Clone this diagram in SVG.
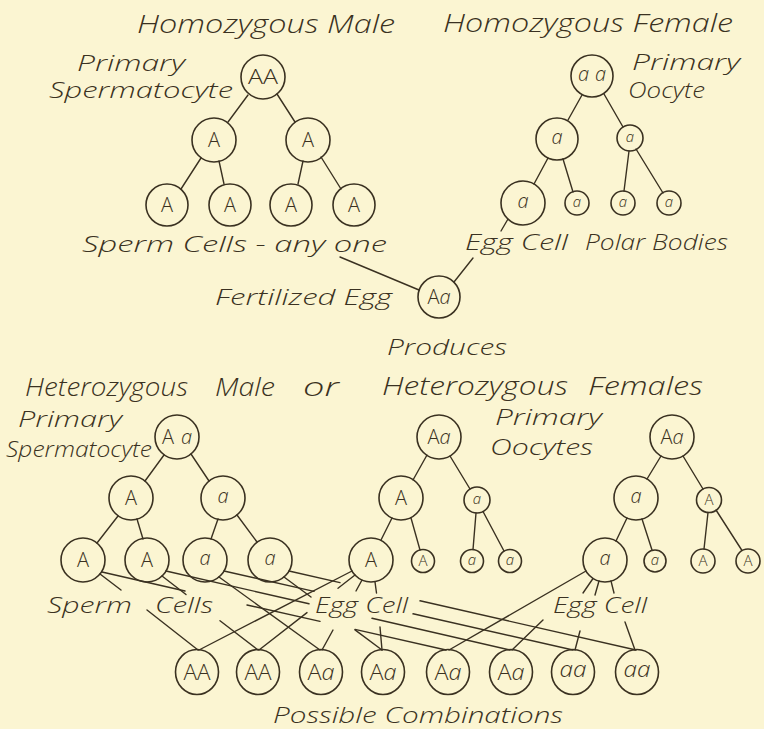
<svg xmlns="http://www.w3.org/2000/svg" width="764" height="729" viewBox="0 0 764 729">
<style>
.bg{fill:#fbf5d2}
.c{fill:none;stroke:#3a3121;stroke-width:1.6}
.ln line{stroke:#3a3121;stroke-width:1.4;stroke-linecap:round}
.lb{font-family:"Open Sans","Liberation Sans",sans-serif;font-style:italic;font-weight:300;font-size:22px;fill:#3a3121}
.tt{font-family:"Open Sans","Liberation Sans",sans-serif;font-style:italic;font-weight:300;font-size:26px;fill:#3a3121}
.n{font-family:"Open Sans","Liberation Sans",sans-serif;font-weight:300;font-size:20px;fill:#3a3121;text-anchor:middle}
.s{font-family:"Open Sans","Liberation Sans",sans-serif;font-weight:300;font-size:15px;fill:#3a3121;text-anchor:middle}
.b{font-family:"Open Sans","Liberation Sans",sans-serif;font-weight:300;font-size:22px;fill:#3a3121;text-anchor:middle}
.i{font-style:italic}
</style>
<rect class="bg" x="0" y="0" width="764" height="729"/>

<g id="labels">
<text class="tt" x="137" y="33" textLength="258" lengthAdjust="spacingAndGlyphs">Homozygous Male</text>
<text class="tt" x="443" y="32" textLength="290" lengthAdjust="spacingAndGlyphs">Homozygous Female</text>
<text class="lb" x="77" y="71" textLength="108" lengthAdjust="spacingAndGlyphs">Primary</text>
<text class="lb" x="49" y="98" textLength="184" lengthAdjust="spacingAndGlyphs">Spermatocyte</text>
<text class="lb" x="632" y="70" textLength="108" lengthAdjust="spacingAndGlyphs">Primary</text>
<text class="lb" x="628" y="98" textLength="77" lengthAdjust="spacingAndGlyphs">Oocyte</text>
<text class="lb" x="82" y="252" textLength="305" lengthAdjust="spacingAndGlyphs">Sperm  Cells - any one</text>
<text class="lb" x="465" y="250" textLength="103" lengthAdjust="spacingAndGlyphs">Egg Cell</text>
<text class="lb" x="585" y="250" textLength="143" lengthAdjust="spacingAndGlyphs">Polar Bodies</text>
<text class="lb" x="215" y="305" textLength="177" lengthAdjust="spacingAndGlyphs">Fertilized Egg</text>
<text class="lb" x="387" y="355" textLength="120" lengthAdjust="spacingAndGlyphs">Produces</text>
<text class="tt" x="25" y="396" textLength="163" lengthAdjust="spacingAndGlyphs">Heterozygous</text>
<text class="tt" x="215" y="396" textLength="60" lengthAdjust="spacingAndGlyphs">Male</text>
<text class="tt" x="303" y="396" textLength="36" lengthAdjust="spacingAndGlyphs">or</text>
<text class="tt" x="382" y="395" textLength="186" lengthAdjust="spacingAndGlyphs">Heterozygous</text>
<text class="tt" x="588" y="395" textLength="115" lengthAdjust="spacingAndGlyphs">Females</text>
<text class="lb" x="18" y="427" textLength="104" lengthAdjust="spacingAndGlyphs">Primary</text>
<text class="lb" x="6" y="457" textLength="146" lengthAdjust="spacingAndGlyphs">Spermatocyte</text>
<text class="lb" x="495" y="425" textLength="107" lengthAdjust="spacingAndGlyphs">Primary</text>
<text class="lb" x="490" y="455" textLength="103" lengthAdjust="spacingAndGlyphs">Oocytes</text>
<text class="lb" x="47" y="613" textLength="85" lengthAdjust="spacingAndGlyphs">Sperm</text>
<text class="lb" x="155" y="613" textLength="58" lengthAdjust="spacingAndGlyphs">Cells</text>
<text class="lb" x="315" y="613" textLength="93" lengthAdjust="spacingAndGlyphs">Egg Cell</text>
<text class="lb" x="553" y="613" textLength="94" lengthAdjust="spacingAndGlyphs">Egg Cell</text>
<text class="lb" x="273" y="723" textLength="290" lengthAdjust="spacingAndGlyphs">Possible Combinations</text>
</g>

<g id="connectors" class="ln">
<!-- homozygous male -->
<line x1="248" y1="95" x2="228" y2="122"/>
<line x1="277" y1="94" x2="295" y2="122"/>
<line x1="201" y1="158" x2="181" y2="189"/>
<line x1="219" y1="161" x2="224" y2="184"/>
<line x1="303" y1="161" x2="298" y2="184"/>
<line x1="321" y1="157" x2="341" y2="189"/>
<!-- homozygous female -->
<line x1="582" y1="95" x2="568" y2="120"/>
<line x1="604" y1="94" x2="623" y2="127"/>
<line x1="548" y1="158" x2="534" y2="184"/>
<line x1="563" y1="159" x2="573" y2="192"/>
<line x1="629" y1="151" x2="624" y2="191"/>
<line x1="636" y1="149" x2="663" y2="193"/>
<!-- fertilization -->
<line x1="508" y1="219" x2="501" y2="231"/>
<line x1="473" y1="258" x2="454" y2="282"/>
<line x1="340" y1="257" x2="419" y2="290"/>
<!-- heterozygous male -->
<line x1="164" y1="455" x2="145" y2="481"/>
<line x1="191" y1="454" x2="209" y2="481"/>
<line x1="118" y1="516" x2="97" y2="543"/>
<line x1="137" y1="519" x2="143" y2="539"/>
<line x1="218" y1="519" x2="211" y2="539"/>
<line x1="237" y1="515" x2="257" y2="542"/>
<!-- heterozygous female 1 -->
<line x1="427" y1="455" x2="413" y2="480"/>
<line x1="450" y1="456" x2="470" y2="489"/>
<line x1="392" y1="518" x2="381" y2="540"/>
<line x1="411" y1="518" x2="420" y2="550"/>
<line x1="476" y1="513" x2="473" y2="549.5"/>
<line x1="483" y1="511.5" x2="504" y2="551"/>
<!-- heterozygous female 2 -->
<line x1="661" y1="456" x2="647" y2="479"/>
<line x1="683" y1="456" x2="703" y2="489"/>
<line x1="627" y1="518" x2="616" y2="541"/>
<line x1="642" y1="519" x2="652" y2="550"/>
<line x1="708" y1="512.5" x2="704" y2="549"/>
<line x1="716" y1="510" x2="742" y2="550.5"/>
<!-- sperm to combinations -->
<line x1="100" y1="574" x2="121" y2="590"/>
<line x1="147" y1="610" x2="198" y2="650"/>
<line x1="102" y1="572" x2="185" y2="591"/>
<line x1="247" y1="605" x2="320" y2="621.4"/>
<line x1="355" y1="629.4" x2="446" y2="650"/>
<line x1="162" y1="576" x2="186" y2="594.5"/>
<line x1="220" y1="620.7" x2="258" y2="650"/>
<line x1="166" y1="571" x2="309" y2="603.8"/>
<line x1="372" y1="618.3" x2="510" y2="650"/>
<line x1="219" y1="577" x2="320" y2="650"/>
<line x1="224" y1="571" x2="314" y2="591.4"/>
<line x1="413" y1="613.8" x2="573" y2="650"/>
<line x1="284" y1="577" x2="311" y2="597"/>
<line x1="355" y1="629.9" x2="382" y2="650"/>
<line x1="289" y1="571" x2="340" y2="582.6"/>
<line x1="420" y1="600.8" x2="636" y2="650"/>
<!-- egg A to combinations -->
<line x1="352" y1="571" x2="199" y2="650"/>
<line x1="355" y1="575" x2="338" y2="588.3"/>
<line x1="307" y1="612.6" x2="259" y2="650"/>
<line x1="362" y1="580" x2="356" y2="591"/>
<line x1="333" y1="630" x2="322" y2="650"/>
<line x1="375" y1="582" x2="376.5" y2="593"/>
<line x1="380" y1="627" x2="382" y2="650"/>
<!-- egg a to combinations -->
<line x1="586" y1="571" x2="449" y2="650"/>
<line x1="593" y1="578.5" x2="583" y2="593"/>
<line x1="543" y1="620" x2="512" y2="650"/>
<line x1="599" y1="581" x2="595" y2="595"/>
<line x1="580" y1="631" x2="575" y2="650"/>
<line x1="611" y1="581" x2="614" y2="593"/>
<line x1="625" y1="622" x2="635" y2="650"/>
</g>

<!-- homozygous male -->
<g id="m0"><circle class="c" cx="263" cy="77" r="22"/><text class="n" x="263" y="84" textLength="30" lengthAdjust="spacingAndGlyphs">AA</text></g>
<g id="m1"><circle class="c" cx="214" cy="140" r="22"/><text class="n" x="214" y="147">A</text></g>
<g id="m2"><circle class="c" cx="308" cy="140" r="22"/><text class="n" x="308" y="147">A</text></g>
<g id="m3"><circle class="c" cx="167" cy="205" r="21"/><text class="n" x="167" y="212">A</text></g>
<g id="m4"><circle class="c" cx="230" cy="205" r="21"/><text class="n" x="230" y="212">A</text></g>
<g id="m5"><circle class="c" cx="291" cy="205" r="21"/><text class="n" x="291" y="212">A</text></g>
<g id="m6"><circle class="c" cx="354" cy="205" r="21"/><text class="n" x="354" y="212">A</text></g>

<!-- homozygous female -->
<g id="f0"><circle class="c" cx="592" cy="76" r="21"/><text class="n i" x="592" y="81" textLength="28" lengthAdjust="spacing">aa</text></g>
<g id="f1"><circle class="c" cx="557" cy="139" r="21"/><text class="n i" x="557" y="144">a</text></g>
<g id="f2"><circle class="c" cx="630" cy="138" r="13"/><text class="s i" x="630" y="142">a</text></g>
<g id="f3"><circle class="c" cx="523" cy="203" r="22"/><text class="n i" x="523" y="208">a</text></g>
<g id="f4"><circle class="c" cx="577" cy="203" r="12"/><text class="s i" x="577" y="207">a</text></g>
<g id="f5"><circle class="c" cx="623" cy="203" r="12"/><text class="s i" x="623" y="207">a</text></g>
<g id="f6"><circle class="c" cx="669" cy="203" r="12"/><text class="s i" x="669" y="207">a</text></g>

<!-- fertilized egg -->
<g id="fe"><circle class="c" cx="439" cy="297" r="21"/><text class="n" x="439" y="304">A<tspan class="i">a</tspan></text></g>

<!-- heterozygous male -->
<g id="hm0"><circle class="c" cx="177" cy="437" r="22"/><text class="n" x="177" y="444" textLength="30" lengthAdjust="spacing">A<tspan class="i">a</tspan></text></g>
<g id="hm1"><circle class="c" cx="131" cy="498" r="22"/><text class="n" x="131" y="505">A</text></g>
<g id="hm2"><circle class="c" cx="223" cy="498" r="22"/><text class="n i" x="223" y="503">a</text></g>
<g id="hm3"><circle class="c" cx="83" cy="560" r="22"/><text class="n" x="83" y="567">A</text></g>
<g id="hm4"><circle class="c" cx="147" cy="560" r="22"/><text class="n" x="147" y="567">A</text></g>
<g id="hm5"><circle class="c" cx="205" cy="560" r="22"/><text class="n i" x="205" y="565">a</text></g>
<g id="hm6"><circle class="c" cx="270" cy="560" r="22"/><text class="n i" x="270" y="565">a</text></g>

<!-- heterozygous female 1 -->
<g id="hf0"><circle class="c" cx="439" cy="437" r="22"/><text class="n" x="439" y="444">A<tspan class="i">a</tspan></text></g>
<g id="hf1"><circle class="c" cx="401" cy="498" r="22"/><text class="n" x="401" y="505">A</text></g>
<g id="hf2"><circle class="c" cx="477" cy="500" r="13"/><text class="s i" x="477" y="504">a</text></g>
<g id="hf3"><circle class="c" cx="371" cy="560" r="22"/><text class="n" x="371" y="567">A</text></g>
<g id="hf4"><circle class="c" cx="423" cy="561" r="11.5"/><text class="s" x="423" y="566">A</text></g>
<g id="hf5"><circle class="c" cx="472" cy="561" r="11.5"/><text class="s i" x="472" y="565">a</text></g>
<g id="hf6"><circle class="c" cx="510" cy="561" r="11.5"/><text class="s i" x="510" y="565">a</text></g>

<!-- heterozygous female 2 -->
<g id="hg0"><circle class="c" cx="672" cy="437" r="22"/><text class="n" x="672" y="444">A<tspan class="i">a</tspan></text></g>
<g id="hg1"><circle class="c" cx="636" cy="498" r="22"/><text class="n i" x="636" y="503">a</text></g>
<g id="hg2"><circle class="c" cx="709" cy="500" r="12.5"/><text class="s" x="709" y="505">A</text></g>
<g id="hg3"><circle class="c" cx="605" cy="560" r="22"/><text class="n i" x="605" y="565">a</text></g>
<g id="hg4"><circle class="c" cx="655" cy="561" r="11"/><text class="s i" x="655" y="565">a</text></g>
<g id="hg5"><circle class="c" cx="703" cy="561" r="12"/><text class="s" x="703" y="566">A</text></g>
<g id="hg6"><circle class="c" cx="748" cy="561" r="12"/><text class="s" x="748" y="566">A</text></g>

<!-- possible combinations -->
<g id="c1"><ellipse class="c" cx="197" cy="672" rx="21.5" ry="22.5"/><text class="b" x="197" y="680" textLength="27" lengthAdjust="spacingAndGlyphs">AA</text></g>
<g id="c2"><ellipse class="c" cx="258" cy="672" rx="21.5" ry="22.5"/><text class="b" x="258" y="680" textLength="27" lengthAdjust="spacingAndGlyphs">AA</text></g>
<g id="c3"><ellipse class="c" cx="321" cy="672" rx="21.5" ry="22.5"/><text class="b" x="321" y="680" textLength="27" lengthAdjust="spacingAndGlyphs">A<tspan class="i">a</tspan></text></g>
<g id="c4"><ellipse class="c" cx="383" cy="672" rx="21.5" ry="22.5"/><text class="b" x="383" y="680" textLength="27" lengthAdjust="spacingAndGlyphs">A<tspan class="i">a</tspan></text></g>
<g id="c5"><ellipse class="c" cx="448" cy="672" rx="21.5" ry="22.5"/><text class="b" x="448" y="680" textLength="27" lengthAdjust="spacingAndGlyphs">A<tspan class="i">a</tspan></text></g>
<g id="c6"><ellipse class="c" cx="511" cy="672" rx="21.5" ry="22.5"/><text class="b" x="511" y="680" textLength="27" lengthAdjust="spacingAndGlyphs">A<tspan class="i">a</tspan></text></g>
<g id="c7"><ellipse class="c" cx="573" cy="672" rx="21.5" ry="22.5"/><text class="b i" x="573" y="677" textLength="27" lengthAdjust="spacingAndGlyphs">aa</text></g>
<g id="c8"><ellipse class="c" cx="637" cy="672" rx="21.5" ry="22.5"/><text class="b i" x="637" y="677" textLength="27" lengthAdjust="spacingAndGlyphs">aa</text></g>
</svg>
